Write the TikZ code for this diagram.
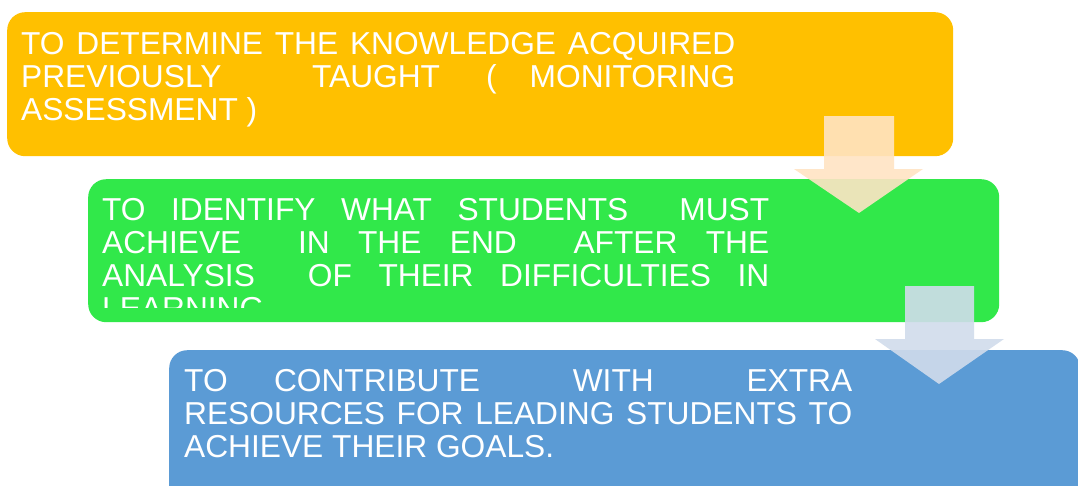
\documentclass[tikz,border=0pt]{standalone}
\usepackage{fontspec}
\setmainfont{Liberation Sans}
\definecolor{boxA}{HTML}{FFC000}
\definecolor{boxB}{HTML}{31E84A}
\definecolor{boxC}{HTML}{5B9BD5}
\definecolor{arrA}{HTML}{FFE4C4}
\definecolor{arrB}{HTML}{D1DCEC}
\newcommand\bfnt{\fontsize{31.7}{33.3}\selectfont}
\newcommand\gp[1]{\hspace{0pt plus #1fill}\ignorespaces}
\begin{document}
\begin{tikzpicture}[x=1pt,y=-1pt,
  boxstyle/.style={anchor=north west, inner sep=0, rounded corners=18pt},
  txt/.style={anchor=base west, inner sep=0, text=white, align=left},
  arrowshape/.style={fill opacity=0.9, draw=none}]
\useasboundingbox (0,0) rectangle (1078,485);
\fill[white] (0,0) rectangle (1078,485);
% boxes
\node[boxstyle, fill=boxA, minimum width=946pt, minimum height=144pt] (b1) at (7,12) {};
\node[boxstyle, fill=boxB, minimum width=911pt, minimum height=143pt] (b2) at (88,179) {};
\node[boxstyle, fill=boxC, minimum width=911pt, minimum height=160pt] (b3) at (169,350) {};
% texts
\node[txt] (t1) at (21,54) {\parbox[t]{714pt}{\bfnt
\hbox to 714pt{TO\gp1 DETERMINE\gp1 THE\gp1 KNOWLEDGE\gp1 ACQUIRED}
\hbox to 714pt{PREVIOUSLY\gp{2.75} TAUGHT\gp{1.4} (\gp1 MONITORING}
\hbox{ASSESSMENT )}}};
\begin{scope}
\clip (88,179) rectangle (999,307.5);
\node[txt] (t2) at (102,220) {\parbox[t]{667pt}{\bfnt
\hbox to 667pt{TO\gp1 IDENTIFY\gp1 WHAT\gp1 STUDENTS\gp2 MUST}
\hbox to 667pt{ACHIEVE\gp2 IN\gp1 THE\gp1 END\gp2 AFTER\gp1 THE}
\hbox to 667pt{ANALYSIS\gp2 OF\gp1 THEIR\gp1 DIFFICULTIES\gp1 IN}
\hbox{LEARNING}}};
\end{scope}
\node[txt] (t3) at (184,391) {\parbox[t]{668pt}{\bfnt
\hbox to 668pt{TO\gp1 CONTRIBUTE\gp2 WITH\gp2 EXTRA}
\hbox to 668pt{RESOURCES\gp1 FOR\gp1 LEADING\gp1 STUDENTS\gp1 TO}
\hbox{ACHIEVE THEIR GOALS.}}};
% arrows
\fill[arrowshape, fill=arrA] (824,116) -- (894,116) -- (894,169) -- (923,169) -- (859,213) -- (794,169) -- (824,169) -- cycle;
\fill[arrowshape, fill=arrB] (905,286) -- (974,286) -- (974,339) -- (1004,339) -- (939,384) -- (875,339) -- (905,339) -- cycle;
\end{tikzpicture}
\end{document}
